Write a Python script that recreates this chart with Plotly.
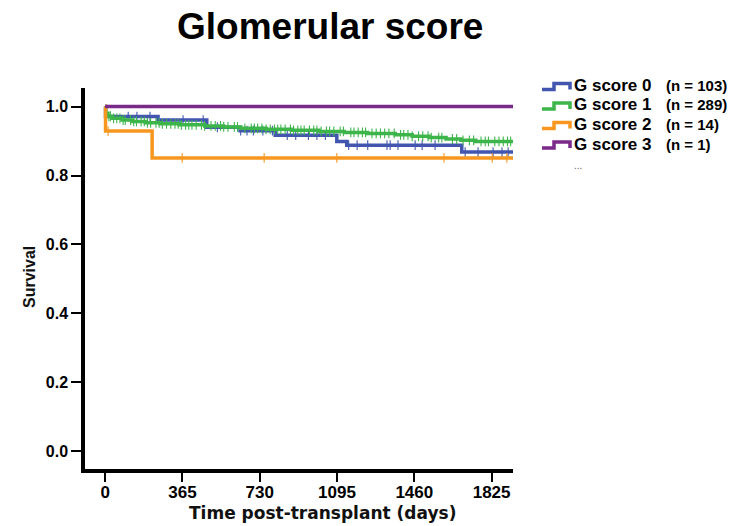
import plotly.graph_objects as go

# Kaplan-Meier step curves: event times (days) and survival after each step
g0_times = [0, 2, 250, 480, 637, 803, 1094, 1141, 1684]
g0_surv = [1.0, 0.971, 0.961, 0.940, 0.930, 0.917, 0.899, 0.888, 0.868]
g0_cens = [109, 150, 212, 368, 463, 530, 640, 670, 700, 745, 790, 860, 900, 960,
           1000, 1040, 1150, 1190, 1240, 1331, 1346, 1383, 1464, 1497, 1558,
           1700, 1761, 1832, 1874, 1903]

g1_times = [0, 3, 12, 35, 80, 130, 190, 260, 350, 470, 560, 640, 760, 880,
            1010, 1130, 1240, 1370, 1450, 1530, 1610, 1680, 1750]
g1_surv = [1.0, 0.979, 0.972, 0.966, 0.961, 0.957, 0.953, 0.950, 0.947, 0.944,
           0.941, 0.937, 0.934, 0.931, 0.928, 0.925, 0.922, 0.918, 0.914,
           0.910, 0.906, 0.902, 0.899]
g1_cens = [8, 18, 25, 40, 55, 70, 85, 95, 120, 135, 148, 170, 185, 200, 215,
           240, 255, 270, 290, 310, 330, 345, 360, 380, 395, 410, 430, 455,
           470, 500, 520, 545, 560, 580, 610, 625, 660, 690, 705, 720, 740,
           760, 780, 800, 815, 830, 850, 875, 890, 910, 925, 940, 965, 985,
           1000, 1020, 1045, 1060, 1080, 1110, 1125, 1160, 1175, 1195, 1215,
           1230, 1260, 1280, 1300, 1320, 1340, 1365, 1395, 1410, 1430, 1450,
           1480, 1500, 1525, 1540, 1575, 1590, 1640, 1660, 1690, 1720, 1740,
           1775, 1795, 1810, 1840, 1860, 1880, 1900, 1915]

g2_times = [0, 2, 222]
g2_surv = [1.0, 0.929, 0.851]
g2_cens = [14, 364, 751, 1094, 1600, 1828, 1897]

g3_times = [0]
g3_surv = [1.0]
g3_cens = []

follow_up_end = 1926

group_names = ["G score 0", "G score 1", "G score 2", "G score 3"]
group_counts = ["(n = 103)", "(n = 289)", "(n = 14)", "(n = 1)"]
colors = ["#4256b0", "#3db54a", "#f7971f", "#7c2a8a"]

x_ticks = [0, 365, 730, 1095, 1460, 1825]
y_ticks = [0.0, 0.2, 0.4, 0.6, 0.8, 1.0]

groups = [
    (g0_times, g0_surv, g0_cens),
    (g1_times, g1_surv, g1_cens),
    (g2_times, g2_surv, g2_cens),
    (g3_times, g3_surv, g3_cens),
]

W, H = 729, 526
ML, MR, MT, MB = 85, 216, 88, 57
PW, PH = W - ML - MR, H - MT - MB


def px(x, y):
    """Pixel position -> paper coordinates."""
    return (x - ML) / PW, 1 - (y - MT) / PH


def surv_at(times, surv, t):
    s = surv[0]
    for ti, si in zip(times, surv):
        if ti <= t:
            s = si
    return s


fig = go.Figure()

for (times, surv, cens), col, name in zip(groups, colors, group_names):
    xs = list(times) + [follow_up_end]
    ys = list(surv) + [surv[-1]]
    fig.add_trace(go.Scatter(x=xs, y=ys, mode="lines", line_shape="hv",
                             line=dict(color=col, width=3.5), name=name,
                             showlegend=False, hoverinfo="skip"))
    if cens:
        fig.add_trace(go.Scatter(
            x=cens, y=[surv_at(times, surv, c) for c in cens], mode="markers",
            marker=dict(symbol="line-ns", size=7,
                        line=dict(color=col, width=1.1)),
            showlegend=False, hoverinfo="skip"))

# legend: step-shaped swatches plus text
row_y = [85.5, 105, 124.5, 144]
for yc, col, name, cnt in zip(row_y, colors, group_names, group_counts):
    pts = [(542, yc + 4), (554, yc + 4), (554, yc - 2), (570, yc - 2), (570, yc + 4)]
    path = "M " + " L ".join(f"{px(a, b)[0]},{px(a, b)[1]}" for a, b in pts)
    fig.add_shape(type="path", path=path, xref="paper", yref="paper",
                  line=dict(color=col, width=3.5))
    x0, y0 = px(572, yc)
    fig.add_annotation(x=x0, y=y0, xref="paper", yref="paper", text=name,
                       showarrow=False, xanchor="left", yanchor="middle",
                       font=dict(family="Liberation Sans", size=17,
                                 color="black", weight="bold"))
    x1, _ = px(664, yc)
    fig.add_annotation(x=x1, y=y0, xref="paper", yref="paper", text=cnt,
                       showarrow=False, xanchor="left", yanchor="middle",
                       font=dict(family="Liberation Sans", size=15,
                                 color="black", weight="bold"))

xd, yd = px(578, 165)
fig.add_annotation(x=xd, y=yd, xref="paper", yref="paper", text="...",
                   showarrow=False, xanchor="center", yanchor="middle",
                   font=dict(family="Liberation Sans", size=10, color="#666666"))

# title and axis titles
xt, yt = px(329.5, 27)
fig.add_annotation(x=xt, y=yt, xref="paper", yref="paper",
                   text="Glomerular score", showarrow=False,
                   xanchor="center", yanchor="middle",
                   font=dict(family="Liberation Sans", size=37, color="black",
                             weight="bold"))
xx, yx = px(322, 513)
fig.add_annotation(x=xx, y=yx, xref="paper", yref="paper",
                   text="Time post-transplant (days)", showarrow=False,
                   xanchor="center", yanchor="middle",
                   font=dict(family="DejaVu Sans", size=17, color="#111111",
                             weight="bold"))
xy, yy = px(29.5, 277.5)
fig.add_annotation(x=xy, y=yy, xref="paper", yref="paper", text="Survival",
                   showarrow=False, textangle=-90, xanchor="center",
                   yanchor="middle",
                   font=dict(family="Liberation Sans", size=16, color="#111111",
                             weight="bold"))

fig.update_layout(
    width=W, height=H,
    margin=dict(l=ML, r=MR, t=MT, b=MB),
    paper_bgcolor="white", plot_bgcolor="white",
    showlegend=False,
    xaxis=dict(range=[-95, 1926], tickvals=x_ticks, ticks="outside",
               ticklen=9, tickwidth=1.5, tickcolor="black",
               ticklabelstandoff=-4,
               showline=True, linecolor="black", linewidth=3.5,
               showgrid=False, zeroline=False,
               tickfont=dict(family="Liberation Sans", size=17,
                             color="black", weight="bold")),
    yaxis=dict(range=[-0.052, 1.054], tickvals=y_ticks, tickformat=".1f",
               ticks="outside", ticklen=10, tickwidth=1.5, tickcolor="black",
               showline=True, linecolor="black", linewidth=3.5,
               showgrid=False, zeroline=False,
               tickfont=dict(family="Liberation Sans", size=16,
                             color="black", weight="bold")),
)

fig.write_html("out.html")
